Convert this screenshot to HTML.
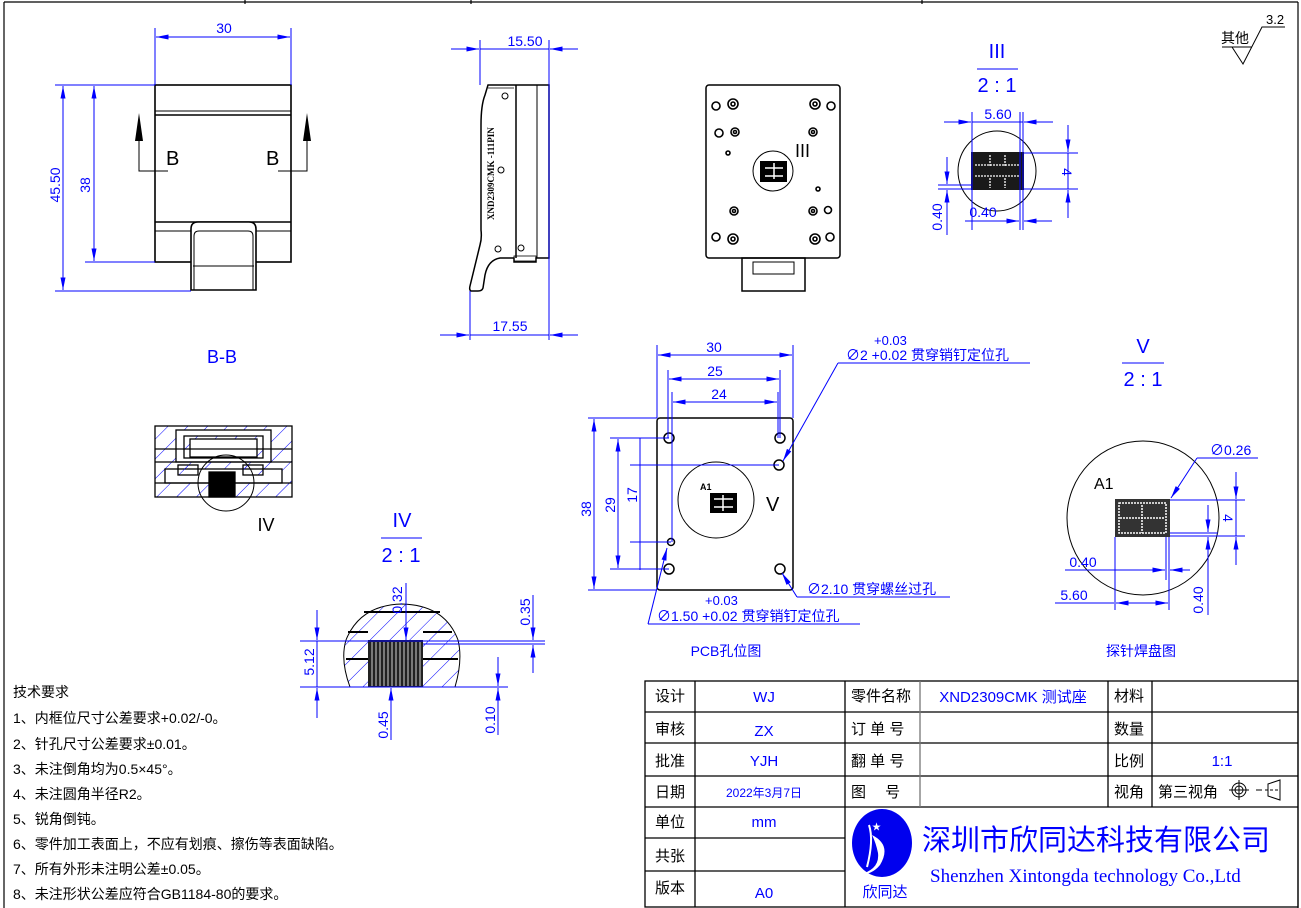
<!DOCTYPE html>
<html><head><meta charset="utf-8"><style>
html,body{margin:0;padding:0;background:#fff}
svg{display:block}
text{font-family:"Liberation Sans","Noto Sans CJK SC",sans-serif}
text.serif{font-family:"Liberation Serif","Noto Serif CJK SC",serif}
.b{fill:#0000ff}
.k{fill:#000}
</style></head><body>
<svg width="1301" height="908" viewBox="0 0 1301 908" xmlns="http://www.w3.org/2000/svg">
<defs>
<pattern id="h" width="14" height="14" patternUnits="userSpaceOnUse" patternTransform="rotate(45)">
<line x1="0" y1="0" x2="0" y2="14" stroke="#0000ff" stroke-width="1"/></pattern>
<marker id="a" viewBox="0 0 10 4" refX="10" refY="2" markerWidth="14" markerHeight="5" orient="auto-start-reverse" markerUnits="userSpaceOnUse"><path d="M0,0L10,2L0,4z" fill="#0000ff"/></marker>
</defs>
<!-- frame -->
<g stroke="#000" fill="none" stroke-width="1.2">
<line x1="4" y1="2" x2="1298" y2="2"/><line x1="4" y1="2" x2="4" y2="908"/><line x1="1298" y1="2" x2="1298" y2="908"/>
<line x1="245" y1="0" x2="245" y2="4"/><line x1="471" y1="0" x2="471" y2="4"/><line x1="922" y1="0" x2="922" y2="4"/>
</g>

<!-- front view -->
<g stroke="#000" fill="none" stroke-width="1.6">
<rect x="155" y="85" width="136" height="177"/>
<line x1="155" y1="111" x2="291" y2="111" stroke-width="1"/><line x1="155" y1="115" x2="291" y2="115"/>
<line x1="155" y1="222" x2="291" y2="222"/><line x1="155" y1="231" x2="291" y2="231" stroke-width="1"/>
<path d="M191,290V229q0-7 7-7h51q7 0 7 7v61z" fill="#fff"/>
<path d="M194,290V236q0-5 5-5h49q5 0 5 5v54" stroke-width="1"/>
<line x1="193" y1="266" x2="254" y2="266" stroke-width="1"/>
</g>
<g stroke="#000" stroke-width="1" fill="none">
<polyline points="168,171 139,171 139,140"/><polyline points="278,171 307,171 307,140"/>
</g>
<path d="M139,113l-4,28h8z M307,113l-4,28h8z" fill="#000"/>
<text x="166" y="165" font-size="20" class="k">B</text><text x="266" y="165" font-size="20" class="k">B</text>
<g stroke="#0000ff" stroke-width="1" fill="none">
<line x1="155" y1="28" x2="155" y2="85"/><line x1="291" y1="28" x2="291" y2="85"/>
<line x1="156" y1="37" x2="290" y2="37" marker-start="url(#a)" marker-end="url(#a)"/>
<line x1="55" y1="85" x2="155" y2="85"/><line x1="55" y1="291" x2="191" y2="291"/><line x1="85" y1="262" x2="155" y2="262"/>
<line x1="63" y1="86" x2="63" y2="290" marker-start="url(#a)" marker-end="url(#a)"/>
<line x1="94" y1="86" x2="94" y2="261" marker-start="url(#a)" marker-end="url(#a)"/>
</g>
<text x="224" y="33" font-size="14" class="b" text-anchor="middle">30</text>
<text transform="translate(60,185) rotate(-90)" font-size="14" class="b" text-anchor="middle">45.50</text>
<text transform="translate(90,185) rotate(-90)" font-size="14" class="b" text-anchor="middle">38</text>

<!-- side view -->
<g stroke="#000" fill="none" stroke-width="1.5">
<path d="M488,85H549V258H536V262H514V258H500Q488 260 485 275L483,288Q482 291 478 291H471Q469 290 470 286L480,245Q482 238 481 230V125Q481 105 485 95Z"/>
<line x1="516" y1="85" x2="516" y2="258"/><line x1="537" y1="85" x2="537" y2="258" stroke-width="1"/>
<line x1="488" y1="88" x2="514" y2="88" stroke-width="0.8"/>
<rect x="514" y="256" width="22" height="5" stroke-width="0.8"/>
<circle cx="505" cy="96" r="3" stroke-width="1"/><circle cx="501" cy="170" r="3" stroke-width="1"/>
<circle cx="498" cy="249" r="3" stroke-width="1"/><circle cx="521" cy="248" r="3" stroke-width="1"/>
</g>
<text transform="translate(494,220) rotate(-90)" font-size="9" font-weight="bold" class="k serif">XND2309CMK  -111PIN</text>
<g stroke="#0000ff" stroke-width="1" fill="none">
<line x1="480" y1="40" x2="480" y2="85"/><line x1="549" y1="40" x2="549" y2="340"/>
<line x1="451" y1="49" x2="479" y2="49" marker-end="url(#a)"/><line x1="578" y1="49" x2="550" y2="49" marker-end="url(#a)"/><line x1="480" y1="49" x2="549" y2="49"/>
<line x1="470" y1="291" x2="470" y2="340"/>
<line x1="440" y1="335" x2="469" y2="335" marker-end="url(#a)"/><line x1="578" y1="335" x2="550" y2="335" marker-end="url(#a)"/><line x1="470" y1="335" x2="549" y2="335"/>
</g>
<text x="525" y="46" font-size="14" class="b" text-anchor="middle">15.50</text>
<text x="510" y="331" font-size="14" class="b" text-anchor="middle">17.55</text>

<!-- top/bottom view -->
<g stroke="#000" fill="none" stroke-width="1.5">
<rect x="706" y="85" width="134" height="173" rx="3"/>
<rect x="742" y="258" width="63" height="33"/>
<rect x="753" y="262" width="41" height="12" stroke-width="1"/>
<g stroke-width="1.6">
<circle cx="716" cy="106" r="4"/><circle cx="733" cy="104" r="5"/><circle cx="733" cy="104" r="2"/>
<circle cx="815" cy="104" r="5"/><circle cx="815" cy="104" r="2"/><circle cx="831" cy="106" r="4"/>
<circle cx="719" cy="133" r="4"/><circle cx="735" cy="132" r="4"/><circle cx="735" cy="132" r="1.5"/>
<circle cx="813" cy="132" r="4"/><circle cx="813" cy="132" r="1.5"/>
<circle cx="728" cy="153" r="2"/><circle cx="818" cy="189" r="2"/>
<circle cx="734" cy="211" r="4"/><circle cx="734" cy="211" r="1.5"/>
<circle cx="813" cy="211" r="4"/><circle cx="813" cy="211" r="1.5"/><circle cx="828" cy="210" r="3.5"/>
<circle cx="716" cy="237" r="4"/><circle cx="733" cy="239" r="5"/><circle cx="733" cy="239" r="2"/>
<circle cx="815" cy="239" r="5"/><circle cx="815" cy="239" r="2"/><circle cx="830" cy="237" r="4"/>
</g>
<ellipse cx="773" cy="171" rx="20" ry="20" stroke-width="1"/>
</g>
<rect x="760" y="161" width="27" height="21" fill="#000"/>
<path d="M765,168h18M765,176h18M774,163v16" stroke="#fff" stroke-width="1.5"/>
<text x="795" y="157" font-size="18" class="k">III</text>

<!-- III detail -->
<text x="997" y="58" font-size="20" class="b" text-anchor="middle">III</text>
<line x1="977" y1="69" x2="1018" y2="69" stroke="#0000ff"/>
<text x="997" y="92" font-size="20" class="b" text-anchor="middle">2 : 1</text>
<ellipse cx="997" cy="171" rx="39" ry="40" stroke="#000" fill="none"/>
<rect x="971" y="152" width="53" height="38" fill="#1a1a1a"/>
<path d="M975,165h45M975,176h45M990,155v12M1005,155v12M990,178v10M1005,178v10" stroke="#fff" stroke-width="1.3" stroke-dasharray="2 1"/>
<g stroke="#0000ff" stroke-width="1" fill="none">
<line x1="972" y1="112" x2="972" y2="230"/><line x1="1023" y1="112" x2="1023" y2="230"/><line x1="1020" y1="112" x2="1020" y2="230"/>
<line x1="944" y1="122" x2="971" y2="122" marker-end="url(#a)"/><line x1="1053" y1="122" x2="1024" y2="122" marker-end="url(#a)"/><line x1="972" y1="122" x2="1023" y2="122"/>
<line x1="1024" y1="153" x2="1078" y2="153"/><line x1="1024" y1="189" x2="1078" y2="189"/>
<line x1="1068" y1="125" x2="1068" y2="152" marker-end="url(#a)"/><line x1="1068" y1="218" x2="1068" y2="190" marker-end="url(#a)"/><line x1="1068" y1="153" x2="1068" y2="189"/>
<line x1="938" y1="185" x2="972" y2="185"/><line x1="938" y1="189" x2="972" y2="189"/>
<line x1="947" y1="157" x2="947" y2="184" marker-end="url(#a)"/><line x1="947" y1="235" x2="947" y2="190" marker-end="url(#a)"/>
<line x1="965" y1="221" x2="1019" y2="221" marker-end="url(#a)"/><line x1="1052" y1="221" x2="1024" y2="221" marker-end="url(#a)"/>
</g>
<text x="998" y="119" font-size="14" class="b" text-anchor="middle">5.60</text>
<text transform="translate(1062,172) rotate(90)" font-size="14" class="b" text-anchor="middle">4</text>
<text transform="translate(942,217) rotate(-90)" font-size="14" class="b" text-anchor="middle">0.40</text>
<text x="983" y="217" font-size="14" class="b" text-anchor="middle">0.40</text>

<!-- roughness -->
<text x="1221" y="43" font-size="14" class="k">其他</text>
<text x="1266" y="24" font-size="13" class="k">3.2</text>
<path d="M1222,47H1252M1232,47L1243,64L1262,27H1285" stroke="#000" fill="none"/>

<!-- B-B section -->
<text x="222" y="363" font-size="18" class="b" text-anchor="middle">B-B</text>
<g stroke="#000" stroke-width="1.3">
<rect x="155" y="426" width="137" height="71" fill="url(#h)"/>
<rect x="176" y="430" width="95" height="32" fill="#fff"/>
<rect x="184" y="436" width="79" height="22" fill="url(#h)"/>
<rect x="190" y="439" width="67" height="18" fill="#fff"/>
<line x1="155" y1="449" x2="292" y2="449"/><line x1="155" y1="462" x2="292" y2="462"/>
<rect x="165" y="469" width="117" height="14" fill="#fff"/>
<rect x="178" y="465" width="20" height="10" fill="url(#h)"/>
<rect x="243" y="465" width="20" height="10" fill="url(#h)"/>
<line x1="155" y1="483" x2="292" y2="483"/>
<rect x="209" y="472" width="26" height="25" fill="#000"/>
</g>
<circle cx="226" cy="483" r="28" stroke="#000" fill="none"/>
<text x="266" y="531" font-size="18" class="k" text-anchor="middle">IV</text>

<!-- IV detail -->
<text x="402" y="527" font-size="20" class="b" text-anchor="middle">IV</text>
<line x1="381" y1="538" x2="422" y2="538" stroke="#0000ff"/>
<text x="401" y="562" font-size="20" class="b" text-anchor="middle">2 : 1</text>
<path d="M350,687Q340 660 346 640Q360 605 402 604Q445 605 458 640Q463 660 455 687Z" fill="url(#h)" stroke="#000"/>
<rect x="368" y="640" width="55" height="47" fill="#222"/>
<path d="M372,642V686M376,642V686M380,642V686M384,642V686M388,642V686M392,642V686M396,642V686M400,642V686M404,642V686M408,642V686M412,642V686M416,642V686M420,642V686" stroke="#fff" stroke-width="0.8"/>
<g stroke="#000" stroke-width="2"><line x1="364" y1="612" x2="440" y2="612"/><line x1="348" y1="632" x2="368" y2="632"/><line x1="423" y1="632" x2="452" y2="632"/><line x1="346" y1="659" x2="368" y2="659"/><line x1="423" y1="659" x2="458" y2="659"/></g>
<g stroke="#0000ff" stroke-width="1" fill="none">
<line x1="300" y1="641" x2="545" y2="641"/><line x1="423" y1="644" x2="545" y2="644"/><line x1="300" y1="687" x2="508" y2="687"/>
<line x1="317" y1="610" x2="317" y2="640" marker-end="url(#a)"/><line x1="317" y1="718" x2="317" y2="688" marker-end="url(#a)"/><line x1="317" y1="641" x2="317" y2="687"/>
<line x1="406" y1="583" x2="406" y2="640" marker-end="url(#a)"/>
<line x1="391" y1="740" x2="391" y2="688" marker-end="url(#a)"/>
<line x1="533" y1="595" x2="533" y2="640" marker-end="url(#a)"/><line x1="533" y1="673" x2="533" y2="645" marker-end="url(#a)"/>
<line x1="498" y1="657" x2="498" y2="686" marker-end="url(#a)"/><line x1="498" y1="735" x2="498" y2="688" marker-end="url(#a)"/>
</g>
<text transform="translate(314,662) rotate(-90)" font-size="14" class="b" text-anchor="middle">5.12</text>
<text transform="translate(402,600) rotate(-90)" font-size="14" class="b" text-anchor="middle">0.32</text>
<text transform="translate(530,612) rotate(-90)" font-size="14" class="b" text-anchor="middle">0.35</text>
<text transform="translate(388,725) rotate(-90)" font-size="14" class="b" text-anchor="middle">0.45</text>
<text transform="translate(495,720) rotate(-90)" font-size="14" class="b" text-anchor="middle">0.10</text>

<!-- PCB hole view -->
<rect x="657" y="418" width="136" height="172" rx="3" stroke="#000" fill="none" stroke-width="1.5"/>
<g stroke="#000" fill="none" stroke-width="1.5">
<circle cx="669" cy="438" r="5"/><circle cx="780" cy="438" r="5"/><circle cx="779" cy="465" r="5"/>
<circle cx="671" cy="542" r="3.5"/><circle cx="669" cy="569" r="5"/><circle cx="780" cy="569" r="5"/>
<ellipse cx="716" cy="500" rx="38" ry="38" stroke-width="1"/>
</g>
<text x="700" y="490" font-size="9" font-weight="bold" class="k">A1</text>
<rect x="710" y="493" width="27" height="20" fill="#000"/>
<path d="M714,499h19M714,507h19M723,495v16" stroke="#fff" stroke-width="1.5"/>
<text x="766" y="511" font-size="20" class="k">V</text>
<g stroke="#0000ff" stroke-width="1" fill="none">
<line x1="657" y1="345" x2="657" y2="418"/><line x1="793" y1="345" x2="793" y2="418"/>
<line x1="668" y1="370" x2="668" y2="438"/><line x1="780" y1="370" x2="780" y2="438"/>
<line x1="672" y1="392" x2="672" y2="542"/><line x1="778" y1="392" x2="778" y2="438"/>
<line x1="658" y1="355" x2="792" y2="355" marker-start="url(#a)" marker-end="url(#a)"/>
<line x1="669" y1="379" x2="779" y2="379" marker-start="url(#a)" marker-end="url(#a)"/>
<line x1="673" y1="402" x2="777" y2="402" marker-start="url(#a)" marker-end="url(#a)"/>
<line x1="588" y1="418" x2="657" y2="418"/><line x1="588" y1="590" x2="657" y2="590"/>
<line x1="610" y1="438" x2="669" y2="438"/><line x1="610" y1="569" x2="669" y2="569"/>
<line x1="630" y1="465" x2="779" y2="465"/><line x1="630" y1="542" x2="671" y2="542"/>
<line x1="594" y1="419" x2="594" y2="589" marker-start="url(#a)" marker-end="url(#a)"/>
<line x1="618" y1="439" x2="618" y2="568" marker-start="url(#a)" marker-end="url(#a)"/>
<line x1="640" y1="438" x2="640" y2="570"/>
<line x1="838" y1="363" x2="1030" y2="363"/><line x1="838" y1="363" x2="783" y2="461" marker-end="url(#a)"/>
<line x1="797" y1="597" x2="950" y2="597"/><line x1="797" y1="597" x2="782" y2="573" marker-end="url(#a)"/>
<line x1="648" y1="624" x2="860" y2="624"/><line x1="648" y1="624" x2="667" y2="548" marker-end="url(#a)"/>
</g>
<text x="714" y="352" font-size="14" class="b" text-anchor="middle">30</text>
<text x="715" y="376" font-size="14" class="b" text-anchor="middle">25</text>
<text x="719" y="399" font-size="14" class="b" text-anchor="middle">24</text>
<text transform="translate(591,509) rotate(-90)" font-size="14" class="b" text-anchor="middle">38</text>
<text transform="translate(615,505) rotate(-90)" font-size="14" class="b" text-anchor="middle">29</text>
<text transform="translate(637,495) rotate(-90)" font-size="14" class="b" text-anchor="middle">17</text>
<text x="874" y="345" font-size="13" class="b">+0.03</text>
<text x="846" y="360" font-size="14" class="b">∅2 +0.02 贯穿销钉定位孔</text>
<text x="807" y="594" font-size="14" class="b">∅2.10 贯穿螺丝过孔</text>
<text x="705" y="605" font-size="13" class="b">+0.03</text>
<text x="657" y="621" font-size="14" class="b">∅1.50 +0.02 贯穿销钉定位孔</text>
<text x="726" y="656" font-size="14" class="b" text-anchor="middle">PCB孔位图</text>

<!-- V detail -->
<text x="1143" y="353" font-size="20" class="b" text-anchor="middle">V</text>
<line x1="1122" y1="363" x2="1164" y2="363" stroke="#0000ff"/>
<text x="1143" y="386" font-size="20" class="b" text-anchor="middle">2 : 1</text>
<ellipse cx="1143" cy="518" rx="76" ry="77" stroke="#000" fill="none"/>
<text x="1094" y="489" font-size="16" class="k">A1</text>
<rect x="1115" y="499" width="55" height="38" fill="#333"/>
<rect x="1119" y="503" width="47" height="30" fill="none" stroke="#fff" stroke-width="1.5" stroke-dasharray="2 1"/>
<path d="M1120,518h45M1142,505v28" stroke="#fff" stroke-width="1.5" stroke-dasharray="2 1"/>
<g stroke="#0000ff" stroke-width="1" fill="none">
<line x1="1197" y1="458" x2="1258" y2="458"/><line x1="1197" y1="458" x2="1171" y2="498" marker-end="url(#a)"/>
<line x1="1170" y1="500" x2="1245" y2="500"/><line x1="1170" y1="536" x2="1245" y2="536"/><line x1="1170" y1="533" x2="1218" y2="533"/>
<line x1="1236" y1="472" x2="1236" y2="499" marker-end="url(#a)"/><line x1="1236" y1="565" x2="1236" y2="537" marker-end="url(#a)"/><line x1="1236" y1="500" x2="1236" y2="536"/>
<line x1="1208" y1="505" x2="1208" y2="532" marker-end="url(#a)"/><line x1="1208" y1="615" x2="1208" y2="537" marker-end="url(#a)"/>
<line x1="1115" y1="537" x2="1115" y2="610"/><line x1="1166" y1="537" x2="1166" y2="580"/><line x1="1169" y1="537" x2="1169" y2="610"/>
<line x1="1065" y1="570" x2="1165" y2="570" marker-end="url(#a)"/><line x1="1190" y1="570" x2="1170" y2="570" marker-end="url(#a)"/>
<line x1="1055" y1="603" x2="1114" y2="603"/><line x1="1116" y1="603" x2="1168" y2="603" marker-start="url(#a)" marker-end="url(#a)"/>
</g>
<text x="1210" y="455" font-size="14" class="b">∅0.26</text>
<text transform="translate(1223,518) rotate(90)" font-size="14" class="b" text-anchor="middle">4</text>
<text x="1083" y="567" font-size="14" class="b" text-anchor="middle">0.40</text>
<text x="1074" y="600" font-size="14" class="b" text-anchor="middle">5.60</text>
<text transform="translate(1203,600) rotate(-90)" font-size="14" class="b" text-anchor="middle">0.40</text>
<text x="1141" y="656" font-size="14" class="b" text-anchor="middle">探针焊盘图</text>

<!-- tech requirements -->
<g font-size="14" class="k">
<text x="13" y="697">技术要求</text>
<text x="13" y="723">1、内框位尺寸公差要求+0.02/-0。</text>
<text x="13" y="749">2、针孔尺寸公差要求±0.01。</text>
<text x="13" y="774">3、未注倒角均为0.5×45°。</text>
<text x="13" y="799">4、未注圆角半径R2。</text>
<text x="13" y="824">5、锐角倒钝。</text>
<text x="13" y="849">6、零件加工表面上，不应有划痕、擦伤等表面缺陷。</text>
<text x="13" y="874">7、所有外形未注明公差±0.05。</text>
<text x="13" y="899">8、未注形状公差应符合GB1184-80的要求。</text>
</g>

<!-- title block -->
<g stroke="#000" fill="none" stroke-width="1.3">
<rect x="645" y="681" width="653" height="226"/>
<line x1="645" y1="712" x2="1298" y2="712"/><line x1="645" y1="743" x2="1298" y2="743"/><line x1="645" y1="776" x2="1298" y2="776"/><line x1="645" y1="807" x2="1298" y2="807"/>
<line x1="645" y1="838" x2="845" y2="838"/><line x1="645" y1="871" x2="845" y2="871"/>
<line x1="695" y1="681" x2="695" y2="907"/><line x1="845" y1="681" x2="845" y2="907"/>
<line x1="920" y1="681" x2="920" y2="807" stroke="#777"/><line x1="1108" y1="681" x2="1108" y2="807"/><line x1="1152" y1="681" x2="1152" y2="807"/>
</g>
<g font-size="15" class="k">
<text x="655" y="701">设计</text><text x="655" y="734">审核</text><text x="655" y="766">批准</text><text x="655" y="797">日期</text>
<text x="655" y="827">单位</text><text x="655" y="861">共张</text><text x="655" y="893">版本</text>
<text x="851" y="701">零件名称</text><text x="851" y="734">订 单 号</text><text x="851" y="766">翻 单 号</text><text x="851" y="797">图　 号</text>
<text x="1114" y="701">材料</text><text x="1114" y="734">数量</text><text x="1114" y="766">比例</text><text x="1114" y="797">视角</text>
<text x="1158" y="797">第三视角</text>
</g>
<g font-size="15" class="b" text-anchor="middle">
<text x="764" y="702">WJ</text><text x="764" y="736">ZX</text><text x="764" y="766">YJH</text>
<text x="764" y="797" font-size="12">2022年3月7日</text><text x="764" y="827">mm</text><text x="764" y="898">A0</text>
<text x="1013" y="702">XND2309CMK 测试座</text><text x="1222" y="766">1:1</text>
</g>
<g stroke="#000" fill="none" stroke-width="1">
<circle cx="1239" cy="790" r="7"/><circle cx="1239" cy="790" r="4"/><path d="M1229,790h20M1239,780v20"/>
<path d="M1262,790h-6M1268,784l12,-4v20l-12,-4z" /><path d="M1265,790h15" stroke-dasharray="3 2"/>
</g>
<ellipse cx="882" cy="843" rx="30" ry="34" fill="#0000ee"/>
<path d="M872,835q20 10 8 30q-8 10 -22 10q22 -5 20 -22q-2 -10 -6 -18z" fill="#fff"/>
<path d="M869,825q5 15 -2 42" stroke="#fff" stroke-width="2" fill="none"/>
<text x="872" y="830" font-size="9" fill="#fff">★</text>
<text x="885" y="897" font-size="15" class="b" text-anchor="middle">欣同达</text>
<text x="922" y="850" font-size="29" class="b">深圳市欣同达科技有限公司</text>
<text x="930" y="882" font-size="19" class="b serif">Shenzhen Xintongda technology Co.,Ltd</text>
</svg>
</body></html>
